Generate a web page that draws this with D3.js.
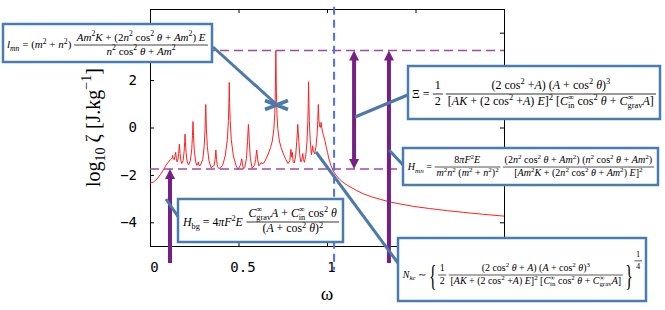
<!DOCTYPE html>
<html>
<head>
<meta charset="utf-8">
<script src="https://cdnjs.cloudflare.com/ajax/libs/d3/7.8.5/d3.min.js"></script>
<style>
  body { margin: 0; background: #fff; }
  svg text { white-space: pre; }
</style>
</head>
<body>
<div id="ui"></div>
<script>
// spectrum: omega and log10 zeta
var omega = [0, 0.02, 0.04, 0.06, 0.075, 0.09, 0.105, 0.115,
  0.124, 0.128, 0.132, 0.137, 0.141, 0.145, 0.149, 0.153,
  0.158, 0.162, 0.166, 0.170, 0.175, 0.180,
  0.187, 0.193, 0.196, 0.198, 0.200, 0.204, 0.210, 0.218,
  0.228, 0.236, 0.240, 0.243, 0.246, 0.250, 0.258, 0.265,
  0.270, 0.273, 0.277, 0.285,
  0.298, 0.306, 0.311, 0.313, 0.315, 0.317, 0.319, 0.324, 0.333, 0.345,
  0.362, 0.368, 0.372, 0.376, 0.381, 0.390,
  0.410, 0.425, 0.437, 0.443, 0.446, 0.448, 0.450, 0.453, 0.459, 0.471, 0.486, 0.497,
  0.510, 0.515, 0.518, 0.522, 0.528,
  0.535, 0.545, 0.551, 0.554, 0.556, 0.558, 0.561, 0.567, 0.577,
  0.590, 0.597, 0.603, 0.608, 0.615, 0.622, 0.627, 0.633,
  0.643, 0.656, 0.668, 0.681, 0.691, 0.700, 0.705, 0.708, 0.711, 0.714, 0.717, 0.722, 0.731, 0.741, 0.754, 0.767, 0.780,
  0.790, 0.796, 0.800, 0.804, 0.809,
  0.815, 0.823, 0.829, 0.833, 0.835, 0.837, 0.841, 0.846, 0.852,
  0.858, 0.863, 0.867, 0.872,
  0.880, 0.887, 0.892, 0.894, 0.896, 0.898, 0.900, 0.905, 0.912,
  0.916, 0.919, 0.923, 0.930,
  0.938, 0.944, 0.948, 0.951, 0.954, 0.958, 0.963, 0.967, 0.970, 0.975, 0.981, 0.988,
  0.995, 1.003, 1.011, 1.022, 1.034, 1.05, 1.073, 1.10, 1.13, 1.165, 1.203, 1.25,
  1.30, 1.35, 1.40, 1.49, 1.58, 1.68, 1.77, 1.88, 2.0];
var logZeta = [-2.35, -2.3, -2.17, -1.97, -1.8, -1.6, -1.45, -1.36,
  -1.3, -1.18, -1.32, -1.36, -1.22, -1.05, -1.3, -1.45,
  -1.35, -1.1, -0.7, -1.1, -1.42, -1.52,
  -1.4, -1.0, -0.6, -0.28, -0.6, -1.05, -1.45, -1.58,
  -1.4, -0.9, -0.35, 0.25, -0.35, -0.95, -1.45, -1.6,
  -1.52, -1.45, -1.6, -1.6,
  -1.35, -0.8, -0.1, 0.4, 0.97, 0.4, -0.1, -0.8, -1.4, -1.7,
  -1.6, -1.35, -0.95, -1.35, -1.65, -1.74,
  -1.6, -1.2, -0.5, 0.3, 1.0, 1.9, 1.0, 0.3, -0.5, -1.2, -1.6, -1.77,
  -1.6, -1.45, -1.32, -1.5, -1.75,
  -1.7, -1.3, -0.6, -0.15, 0.13, -0.15, -0.6, -1.3, -1.72,
  -1.6, -1.35, -0.95, -1.35, -1.62, -1.55, -1.48, -1.52,
  -1.5, -1.32, -1.12, -0.85, -0.57, -0.05, 0.6, 1.5, 3.25, 1.5, 0.6, -0.05, -0.57, -0.85, -1.12, -1.35, -1.52,
  -1.4, -0.92, -1.25, -1.05, -1.45,
  -1.5, -1.2, -0.6, -0.15, 0.13, -0.15, -0.6, -1.15, -1.45,
  -1.35, -1.1, -1.35, -1.47,
  -1.2, -0.6, 0.3, 1.0, 1.93, 1.0, 0.3, -0.5, -1.15,
  -0.95, -0.77, -1.0, -1.1,
  -0.8, -0.3, 0.3, 0.97, 0.35, 0.05, 0.0, 0.22, 0.0, -0.2, -0.35, -0.55,
  -0.8, -1.05, -1.33, -1.6, -1.82, -2.0, -2.2, -2.37, -2.5, -2.65, -2.79, -2.92,
  -3.03, -3.13, -3.21, -3.33, -3.42, -3.51, -3.58, -3.66, -3.74];

var xTicks = [0, 0.5, 1, 1.5, 2];
var yTicks = [-4, -2, 0, 2, 4];
var xHidden = [1.5, 2];              // labels covered by the callouts in the figure
var yHidden = [4];
var levels = [3.25, -1.75];          // dashed purple reference levels
var cutoff = [1.04, 5.1, -6.0];      // omega, top, bottom of the blue dashed line

// purple arrows: omega, from, to, head at both ends?
var arrowW = [0.113, 1.153, 1.35];
var arrowFrom = [-5.72, -1.75, -5.72];
var arrowTo = [-1.75, 3.25, 3.25];
var arrowBoth = [false, true, false];

var serif = "'Liberation Serif', 'Times New Roman', serif";
var mono = "'DejaVu Sans Mono', monospace";
var red = "#ff2020", purple = "#762083", lilac = "#a04aa8", blueDash = "#4f6ff2", boxBlue = "#4a7cb4";

var w = 665, h = 310;
var x_scale = d3.scaleLinear().domain([0, 2]).range([150, 504]);
var y_scale = d3.scaleLinear().domain([-5, 5]).range([246, 9]);

var svg = d3.select("#ui").append("svg")
  .attr("width", w)
  .attr("height", h)
  .style("display", "block");

// Axes (ticks pointing inward on all four sides)
var xFmt = function (d) { return xHidden.indexOf(d) < 0 ? d3.format("")(d) : ""; };
var yFmt = function (d) { return yHidden.indexOf(d) < 0 ? d3.format("")(d) : ""; };

var xAxisG = svg.append("g")
  .attr("transform", "translate(0," + y_scale(-5) + ")")
  .call(d3.axisBottom(x_scale).tickValues(xTicks).tickSize(-4).tickPadding(16).tickFormat(xFmt));
svg.append("g")
  .attr("transform", "translate(0," + y_scale(5) + ")")
  .call(d3.axisTop(x_scale).tickValues(xTicks).tickSize(-4).tickFormat(""));
svg.append("g")
  .attr("transform", "translate(" + x_scale(0) + ",0)")
  .call(d3.axisLeft(y_scale).tickValues(yTicks).tickSize(-4).tickPadding(13).tickFormat(yFmt));
svg.append("g")
  .attr("transform", "translate(" + x_scale(2) + ",0)")
  .call(d3.axisRight(y_scale).tickValues(yTicks).tickSize(-4).tickFormat(""));

svg.selectAll(".tick text").attr("font-family", mono).attr("font-size", 14).attr("fill", "#000");
svg.selectAll(".tick line, .domain").attr("stroke", "#000");
xAxisG.selectAll(".tick text").attr("dx", 4);   // labels sit a little right of their ticks

// curve
var line = d3.line()
  .x(function (d) { return x_scale(d[0]); })
  .y(function (d) { return y_scale(d[1]); });

svg.append("path")
  .datum(d3.zip(omega, logZeta))
  .attr("d", line)
  .attr("fill", "none")
  .attr("stroke", red)
  .attr("stroke-width", 1);

// reference levels and cutoff
svg.selectAll("line.level").data(levels).enter().append("line")
  .attr("class", "level")
  .attr("x1", x_scale(0)).attr("x2", x_scale(2))
  .attr("y1", function (d) { return y_scale(d); })
  .attr("y2", function (d) { return y_scale(d); })
  .attr("stroke", lilac).attr("stroke-width", 1.5).attr("stroke-dasharray", "9,5");

svg.append("line")
  .attr("x1", x_scale(cutoff[0])).attr("x2", x_scale(cutoff[0]))
  .attr("y1", y_scale(cutoff[1])).attr("y2", y_scale(cutoff[2]))
  .attr("stroke", blueDash).attr("stroke-width", 2).attr("stroke-dasharray", "8,5");

// arrows
function head(x, tip, dir) {
  // dir = -1 points up, +1 points down
  var b = tip - dir * 10;
  return "M" + x + "," + tip + "L" + (x - 5) + "," + b + "L" + (x + 5) + "," + b + "Z";
}
arrowW.forEach(function (a, i) {
  var x = x_scale(a), y0 = y_scale(arrowFrom[i]), y1 = y_scale(arrowTo[i]);
  var dir = y1 < y0 ? -1 : 1;
  svg.append("line")
    .attr("x1", x).attr("x2", x)
    .attr("y1", arrowBoth[i] ? y0 + dir * 8 : y0)
    .attr("y2", y1 - dir * 8)
    .attr("stroke", purple).attr("stroke-width", 4);
  svg.append("path").attr("d", head(x, y1, dir)).attr("fill", purple);
  if (arrowBoth[i]) svg.append("path").attr("d", head(x, y0, -dir)).attr("fill", purple);
});

// callout connectors
var connectors = [
  [213, 47, 276, 104],
  [410, 94, 355, 117],
  [389, 150, 404, 166],
  [166, 199, 179, 218],
  [316, 152, 398, 263]
];
svg.selectAll("line.conn").data(connectors).enter().append("line")
  .attr("class", "conn")
  .attr("x1", function (d) { return d[0]; }).attr("y1", function (d) { return d[1]; })
  .attr("x2", function (d) { return d[2]; }).attr("y2", function (d) { return d[3]; })
  .attr("stroke", "#4b79aa").attr("stroke-width", 3);
svg.append("path")
  .attr("d", "M265,100.5L288,109.5M265,109.5L288,100.5")
  .attr("stroke", "#4b79aa").attr("stroke-width", 3.5).attr("fill", "none");

// ---- tiny math typesetter ----
var romanWords = ["cos", "in", "grav", "bg"];

function tokens(str) {
  var out = [], buf = "", i = 0;
  function isItalic(p) {
    return /^[A-Za-zθπζ]/.test(p) && romanWords.indexOf(p) < 0;
  }
  function flush() {
    var re = /[A-Za-z]+|[θπζ]|[^A-Za-zθπζ]+/g, m;
    while ((m = re.exec(buf))) out.push({ t: m[0], it: isItalic(m[0]), mode: 0 });
    buf = "";
  }
  while (i < str.length) {
    var c = str[i];
    if (c === "^" || c === "_") {
      flush();
      var g;
      if (str[i + 1] === "{") { var j = str.indexOf("}", i); g = str.slice(i + 2, j); i = j + 1; }
      else { g = str[i + 1]; i += 2; }
      out.push({ t: g, it: isItalic(g), mode: c === "^" ? 1 : -1 });
    } else { buf += c; i++; }
  }
  flush();
  return out;
}

function mathText(g, str, size) {
  var t = g.append("text").attr("font-family", serif).attr("font-size", size).attr("fill", "#000");
  var cur = 0, prev = null, pending = 0;
  tokens(str).forEach(function (k) {
    var target = k.mode === 1 ? -0.4 * size : k.mode === -1 ? 0.25 * size : 0;
    var sp = t.append("tspan").text(k.t)
      .attr("font-style", k.it ? "italic" : "normal")
      .attr("font-size", k.mode ? size * 0.7 : size)
      .attr("dy", target - cur);
    cur = target;
    if (prev && prev.mode && k.mode && prev.mode !== k.mode && !prev.stacked) {
      var pw = prev.node.getComputedTextLength();
      sp.attr("dx", -pw);
      pending = Math.max(0, pw - sp.node().getComputedTextLength());
      k.stacked = true;
    } else if (pending) {
      sp.attr("dx", pending);
      pending = 0;
    }
    k.node = sp.node();
    prev = k;
  });
  return t;
}

function mathRow(g, items, size) {
  var x = 0, axis = -0.3 * size;
  items.forEach(function (it) {
    if (typeof it === "string") {
      var t = mathText(g, it, size).attr("x", x).attr("y", 0);
      var bb = t.node().getBBox();
      x = bb.x + bb.width + size * 0.25;
    } else if (it.brace) {
      var s = g.append("g");
      var bt = s.append("text").text(it.brace)
        .attr("font-family", serif).attr("font-size", size * 2.9).attr("fill", "#000");
      var b = bt.node().getBBox();
      s.attr("transform", "translate(" + (x - b.x * 0.55) + "," + (axis - (b.y + b.height / 2)) + ") scale(0.55,1)");
      x += b.width * 0.55 + size * 0.15;
    } else {
      var fs = size * (it.s || 1);
      var bar = axis + (it.raise || 0);
      var n = mathText(g, it.num, fs), d = mathText(g, it.den, fs);
      var bn = n.node().getBBox(), bd = d.node().getBBox();
      var fw = Math.max(bn.width, bd.width) + 4;
      n.attr("x", x + (fw - bn.width) / 2 - bn.x).attr("y", bar - 0.28 * fs - 1.5);
      d.attr("x", x + (fw - bd.width) / 2 - bd.x).attr("y", bar + 0.8 * fs + 1);
      g.append("line").attr("x1", x).attr("x2", x + fw).attr("y1", bar).attr("y2", bar)
        .attr("stroke", "#000").attr("stroke-width", 0.8);
      x += fw + size * 0.25;
    }
  });
}

// callout boxes: x, y, width, height, fraction-bar y, font size, content
var boxes = [
  [3, 24, 209, 38, 45, 12, ["l_{mn} = (m^2 + n^2)",
    { num: "Am^2K + (2n^2 cos^2 θ + Am^2) E", den: "n^2 cos^2 θ + Am^2" }]],
  [408, 66, 252, 53, 94, 12, ["Ξ =", { num: "1", den: "2" },
    { num: "(2 cos^2 +A) (A + cos^2 θ)^3", den: "[AK + (2 cos^2 +A) E]^2 [C^∞_{in} cos^2 θ + C^∞_{grav}A]" }]],
  [403, 148, 255, 37, 167, 12, ["H_{mn} =", { num: "8πF^2E", den: "m^2n^2 (m^2 + n^2)^2" },
    { num: "(2n^2 cos^2 θ + Am^2) (n^2 cos^2 θ + Am^2)", den: "[Am^2K + (2n^2 cos^2 θ + Am^2) E]^2" }]],
  [178, 199, 165, 43, 222, 12, ["H_{bg} = 4πF^2E",
    { num: "C^∞_{grav}A + C^∞_{in} cos^2 θ", den: "(A + cos^2 θ)^2" }]],
  [398, 238, 248, 63, 275, 12, ["N_{kc} ∼", { brace: "{" }, { num: "1", den: "2" },
    { num: "(2 cos^2 θ + A) (A + cos^2 θ)^3", den: "[AK + (2 cos^2 +A) E]^2 [C^∞_{in} cos^2 θ + C^∞_{grav}A]" },
    { brace: "}" }, { num: "1", den: "4", s: 0.85, raise: -17 }]]
];

boxes.forEach(function (b) {
  svg.append("rect")
    .attr("x", b[0]).attr("y", b[1]).attr("width", b[2]).attr("height", b[3])
    .attr("fill", "#fff").attr("stroke", boxBlue).attr("stroke-width", 2.5);
  var g = svg.append("g");
  var inner = g.append("g");
  mathRow(inner, b[6], b[5]);
  var bb = inner.node().getBBox();
  var sc = Math.max(0.6, Math.min(1.4, (b[2] - 8) / bb.width));
  var axis = -0.3 * b[5] * sc;
  var tx = b[0] + (b[2] - bb.width * sc) / 2 - bb.x * sc;
  var ty = b[4] - axis;
  g.attr("transform", "translate(" + tx + "," + ty + ") scale(" + sc + ")");
});

// axis titles
var yl = svg.append("text")
  .attr("transform", "translate(100," + y_scale(0) + ") rotate(-90)")
  .attr("text-anchor", "middle")
  .attr("font-family", serif)
  .attr("font-size", 20)
  .attr("fill", "#000");
yl.append("tspan").text("log");
yl.append("tspan").text("10").attr("font-size", 14).attr("dy", 5);
yl.append("tspan").text(" ζ [J.kg").attr("dy", -5);
yl.append("tspan").text("−1").attr("font-size", 14).attr("dy", -9);
yl.append("tspan").text("]").attr("dy", 9);

svg.append("text")
  .attr("x", x_scale(1))
  .attr("y", 300)
  .attr("text-anchor", "middle")
  .attr("font-family", serif)
  .attr("font-size", 19)
  .attr("fill", "#000")
  .text("ω");
</script>
</body>
</html>
